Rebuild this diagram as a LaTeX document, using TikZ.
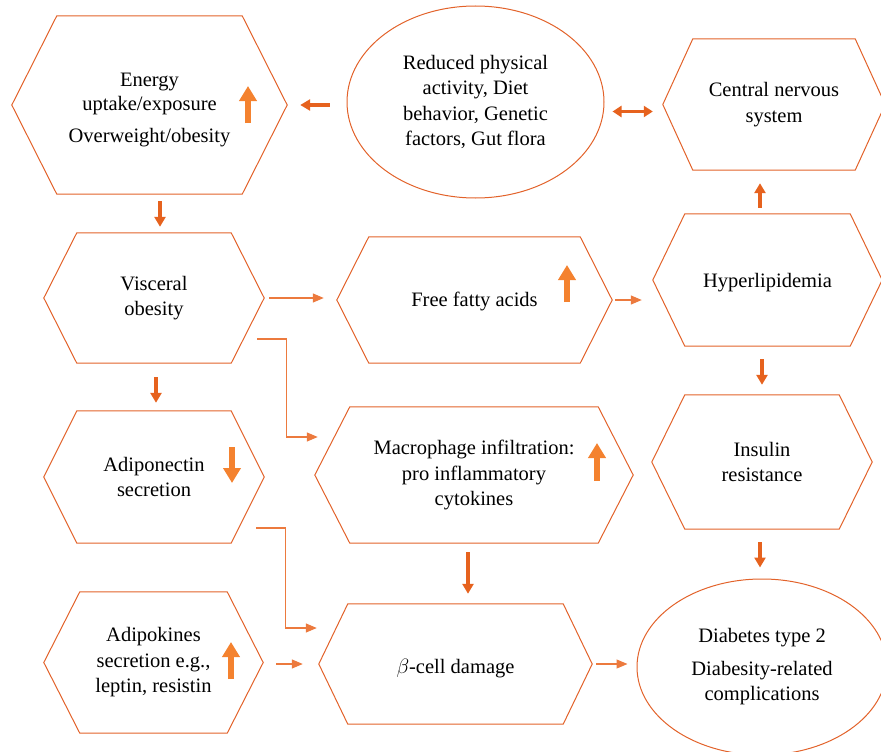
\documentclass[tikz,border=0pt]{standalone}
\usepackage{fontspec}
\setmainfont{Liberation Serif}
\usepackage{tikz}
\usetikzlibrary{arrows.meta, shapes.geometric, positioning}
\definecolor{hexline}{HTML}{E2622A}
\definecolor{conncol}{HTML}{E6621E}
\definecolor{upcol}{HTML}{F4822F}
\definecolor{thincol}{HTML}{EC7A3E}
\tikzset{
    hexbox/.style={
        inner sep=0pt, align=center,
        font=\fontsize{20.5}{25.5}\selectfont
    },
    oval/.style={
        ellipse, draw=hexline, line width=1pt,
        inner sep=0pt, align=center,
        font=\fontsize{20.5}{25.5}\selectfont
    },
    hexedge/.style={
        draw=hexline, line width=1pt, line join=miter
    },
    conn/.style={
        conncol, line width=3.5pt,
        -{Triangle[width=11pt, length=10pt]}
    },
    dconn/.style={
        conncol, line width=3.5pt,
        {Triangle[width=11pt, length=9pt]}-{Triangle[width=11pt, length=9pt]}
    },
    thinconn/.style={
        thincol, line width=1.2pt,
        -{Triangle[width=9pt, length=11pt]}
    },
    updown/.style={
        upcol, line width=6.5pt,
        -{Triangle[width=17pt, length=15pt]}
    },
}
\begin{document}
\begin{tikzpicture}[x=1pt, y=-1pt]
        \useasboundingbox (0,0) rectangle (881,752);

        \node[hexbox, minimum width=275pt, minimum height=178pt] (energy) at (149.5,105) {\mbox{}\\[-2.5pt]Energy\\[-1pt]uptake/exposure\\[6pt]Overweight/obesity};
        \node[hexbox, minimum width=220pt, minimum height=130pt] (visceral) at (154,298) {Visceral\\obesity};
        \node[hexbox, minimum width=220pt, minimum height=132pt] (adipo) at (154,477) {Adiponectin\\secretion};
        \node[hexbox, minimum width=219pt, minimum height=141pt] (adipok) at (153.5,662.5) {Adipokines\\secretion e.g.,\\leptin, resistin};
        \node[hexbox, minimum width=275pt, minimum height=126pt] (ffa) at (474.5,300) {\raisebox{-1pt}[\height][\depth]{Free fatty acids}};
        \node[hexbox, minimum width=318pt, minimum height=136pt] (macro) at (474,475) {Macrophage infiltration:\\pro inflammatory\\cytokines};
        \node[hexbox, minimum width=273pt, minimum height=120pt] (beta) at (455.5,664) {\raisebox{-5pt}[\height][\depth]{$\beta$-cell damage}};
        \node[hexbox, minimum width=222pt, minimum height=131pt] (cns) at (774,104.5) {Central nervous\\system};
        \node[hexbox, minimum width=229pt, minimum height=132pt] (hyper) at (767.5,280) {\raisebox{-3pt}[\height][\depth]{Hyperlipidemia}};
        \node[hexbox, minimum width=220pt, minimum height=134pt] (insulin) at (762,462) {Insulin\\resistance};
        \node[oval, minimum width=257pt, minimum height=192pt] (reduced) at (475.5,102) {Reduced physical\\activity, Diet\\behavior, Genetic\\factors, Gut flora};
        \node[oval, minimum width=250pt, minimum height=176pt] (diab) at (762,667) {Diabetes type 2\\[7pt]Diabesity-related\\complications};

        \foreach \n/\d in {energy/45, visceral/33, adipo/33, adipok/36, ffa/32,
                        macro/35, beta/29, cns/30, hyper/32, insulin/33}
                            \draw[hexedge] (\n.west) -- ([xshift=\d pt]\n.north west) -- ([xshift=-\d pt]\n.north east)
                                -- (\n.east) -- ([xshift=-\d pt]\n.south east) -- ([xshift=\d pt]\n.south west) -- cycle;

        \foreach \n/\dx/\dy/\len in {energy/98.5/-18/37, ffa/92.5/-2/37, macro/123/-6/38,
                        adipok/77.5/-16.5/37, adipo/78/30/-36}
                            \draw[updown] ([xshift=\dx pt, yshift=\dy pt]\n.center) -- ++(0pt,\len pt);

        \draw[conn, shorten <=17pt, shorten >=13pt] (reduced.west |- energy.east) -- (energy.east);
        \draw[dconn, shorten <=8pt, shorten >=10pt] ([yshift=-7pt]reduced.east |- cns.west) -- ([yshift=-7pt]cns.west);
        \draw[conn, shorten <=7pt, shorten >=6pt] ([xshift=6pt]visceral.north |- energy.south) -- ([xshift=6pt]visceral.north);
        \draw[conn, shorten <=14pt, shorten >=8pt] ([xshift=2pt]visceral.south) -- ([xshift=2pt]visceral.south |- adipo.north);
        \draw[conn, shorten <=6pt, shorten >=13pt] ([xshift=-7.5pt]hyper.north) -- ([xshift=-7.5pt]hyper.north |- cns.south);
        \draw[conn, shorten <=13pt, shorten >=10pt] (insulin.north |- hyper.south) -- (insulin.north);
        \draw[conn, shorten <=13pt, shorten >=11pt] ([xshift=-2pt]insulin.south) -- ([xshift=-2pt]insulin.south |- diab.north);
        \draw[conn, shorten <=9pt, shorten >=10pt] ([xshift=-6pt]macro.south) -- ([xshift=-6pt]macro.south |- beta.north);

        \draw[thinconn, shorten <=5pt, shorten >=13pt] (visceral.east) -- (visceral.east -| ffa.west);
        \draw[thinconn, shorten <=3pt, shorten >=11pt] (ffa.east) -- (ffa.east -| hyper.west);
        \draw[thinconn, shorten <=13pt, shorten >=16pt] (adipok.east |- beta.west) -- (beta.west);
        \draw[thinconn, shorten <=4pt, shorten >=9pt] (beta.east) -- (beta.east -| diab.west);
        \draw[thinconn] ([xshift=-7pt, yshift=-41pt]visceral.east) -- ++(29pt,0pt) |- ([xshift=3pt, yshift=38pt]macro.west);
        \draw[thinconn] ([xshift=-8pt, yshift=-51pt]adipo.east) -- ++(29pt,0pt) |- ([xshift=-2pt, yshift=36pt]beta.west);
\end{tikzpicture}
\end{document}
